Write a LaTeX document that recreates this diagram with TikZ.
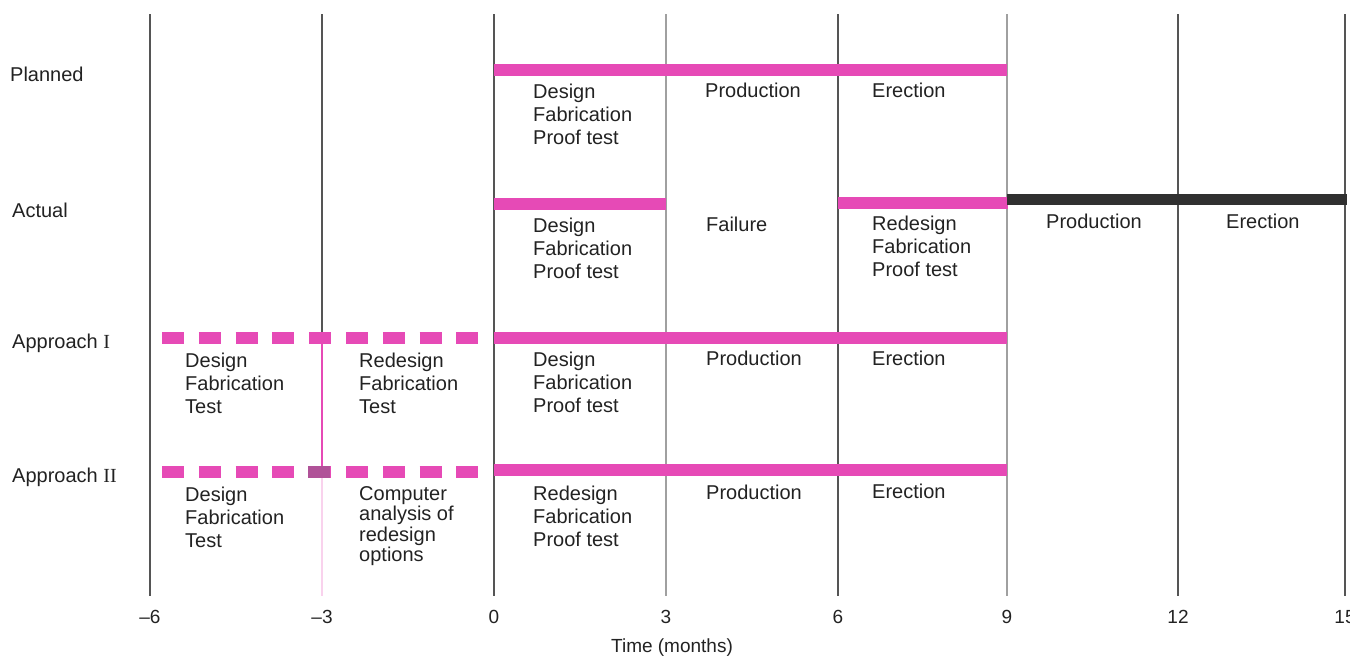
\documentclass[tikz,border=0pt]{standalone}
\usepackage{fontspec}
\setmainfont{Liberation Sans}
\newfontfamily\romanfont{Liberation Serif}
\usetikzlibrary{positioning}
\definecolor{barpink}{RGB}{230,74,182}
\definecolor{barplum}{RGB}{176,82,152}
\definecolor{bardark}{RGB}{48,48,48}
\definecolor{inkgray}{RGB}{34,34,34}
\definecolor{linedark}{RGB}{85,85,85}
\definecolor{linegray}{RGB}{160,160,160}

\begin{document}
\begin{tikzpicture}[x=1pt, y=-1pt,
    bar/.style={line width=12pt, barpink},
    darkbar/.style={line width=11pt, bardark},
    dashbar/.style={line width=12pt, barpink, dash pattern=on 22pt off 14.8pt},
    grid/.style={line width=1.3pt},
    txt/.style={anchor=base west, inner sep=0pt, align=left, text=inkgray,
        font=\fontsize{20}{23}\selectfont},
    block/.style={txt, anchor=north west, yshift=14.5pt},
    tightblock/.style={block, font=\fontsize{20}{20.3}\selectfont},
    ticklab/.style={anchor=base, inner sep=0pt, text=inkgray,
        font=\fontsize{19}{23}\selectfont}]
    \useasboundingbox (0,0) rectangle (1350,656);

    % Month lines and tick labels
    \foreach \m/\x/\c/\lab in {-6/150/linedark/\textendash 6, 0/494/linedark/0,
        3/666/linegray/3, 6/838/linedark/6, 9/1007/linegray/9,
        12/1178/linedark/12, 15/1345/linedark/15} {
        \draw[grid, \c] (\x,14) -- (\x,596);
        \node[ticklab] (t\m) at (\x,623) {\lab};
    }
    % The -3 line changes colour between the two approaches
    \draw[grid, linedark] (322,14) -- (322,336);
    \draw[grid, barpink] (322,336) -- (322,472);
    \draw[grid, barpink!25] (322,472) -- (322,596);
    \node[ticklab] (t-3) at (322,623) {\textendash 3};
    \node[ticklab] (axis) at (672,652) {Time (months)};

    % Row labels
    \node[txt] (planned) at (10,81) {Planned};
    \node[txt] (actual) at (12,217) {Actual};
    \node[txt] (appI) at (12,348) {Approach {\romanfont I}};
    \node[txt] (appII) at (12,482) {Approach {\romanfont II}};

    % Planned
    \draw[bar] (494,70) -- (1007,70);
    \node[block] (p1) at (533,98) {Design\\Fabrication\\Proof test};
    \node[txt] (p2) at (705,97) {Production};
    \node[txt] (p3) at (872,97) {Erection};

    % Actual
    \draw[bar] (494,204) -- (666,204);
    \draw[bar] (838,203) -- (1008,203);
    \draw[darkbar] (1007,199) -- (1347,199);
    \node[block] (a1) at (533,232) {Design\\Fabrication\\Proof test};
    \node[txt] (a2) at (706,231) {Failure};
    \node[block] (a3) at (872,230) {Redesign\\Fabrication\\Proof test};
    \node[txt] (a4) at (1046,228) {Production};
    \node[txt] (a5) at (1226,228) {Erection};

    % Approach I
    \draw[dashbar] (162,338) -- (479,338);
    \draw[bar] (494,338) -- (1007,338);
    \node[block] (b1) at (185,367) {Design\\Fabrication\\Test};
    \node[block] (b2) at (359,367) {Redesign\\Fabrication\\Test};
    \node[block] (b3) at (533,366) {Design\\Fabrication\\Proof test};
    \node[txt] (b4) at (706,365) {Production};
    \node[txt] (b5) at (872,365) {Erection};

    % Approach II
    \draw[dashbar] (162,472) -- (479,472);
    \draw[line width=12pt, barplum] (308,472) -- (330,472);
    \draw[bar] (494,470) -- (1007,470);
    \node[block] (c1) at (185,501) {Design\\Fabrication\\Test};
    \node[tightblock] (c2) at (359,501) {Computer\\analysis of\\redesign\\options};
    \node[block] (c3) at (533,500) {Redesign\\Fabrication\\Proof test};
    \node[txt] (c4) at (706,499) {Production};
    \node[txt] (c5) at (872,498) {Erection};
\end{tikzpicture}
\end{document}
